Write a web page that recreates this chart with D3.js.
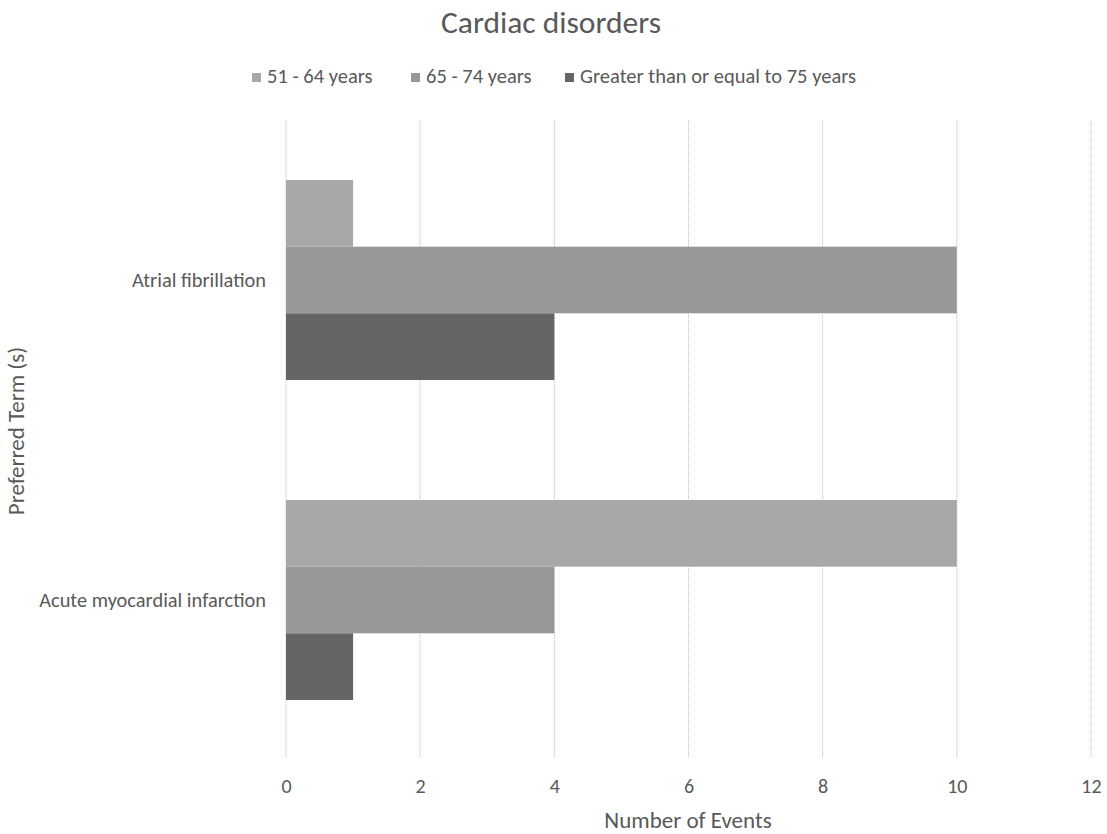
<!DOCTYPE html>
<html><head><meta charset="utf-8">
<script src="https://cdn.jsdelivr.net/npm/d3@7"></script>
<style>body{margin:0;background:#fff}svg{display:block}</style>
</head><body>
<svg id="c" width="1107" height="834"></svg>
<script>
const categories = ["Atrial fibrillation", "Acute myocardial infarction"];
const seriesNames = ["51 - 64 years", "65 - 74 years", "Greater than or equal to 75 years"];
const s51_64 = [1, 10];
const s65_74 = [10, 4];
const s75plus = [4, 1];
const xTicks = [0, 2, 4, 6, 8, 10, 12];
const colors = ["#a8a8a8", "#989898", "#656565"];
const series = [s51_64, s65_74, s75plus];

const svg = d3.select("#c");
const font = "Carlito, Lato, 'Liberation Sans', sans-serif";
const txt = "#595959";
const m = {l: 286, r: 1091, t: 120, b: 760};

const x = d3.scaleLinear().domain([0, 12]).range([m.l, m.r]);
const y0 = d3.scaleBand().domain(categories).range([m.t, m.b]).paddingInner(0.375).paddingOuter(0.1875);
const y1 = d3.scaleBand().domain(d3.range(3)).range([0, y0.bandwidth()]);

// gridlines
svg.append("g").selectAll("line").data(xTicks).join("line")
  .attr("x1", d => x(d)).attr("x2", d => x(d))
  .attr("y1", m.t).attr("y2", m.b - 3)
  .attr("stroke", "#bdbdbd").attr("stroke-width", 1).attr("stroke-dasharray", "1,1");

// bars
const g = svg.append("g");
categories.forEach((c, i) => {
  series.forEach((s, j) => {
    g.append("rect")
      .attr("x", x(0)).attr("y", y0(c) + y1(j))
      .attr("width", x(s[i]) - x(0)).attr("height", y1.bandwidth())
      .attr("fill", colors[j]);
  });
});

// x tick labels
const xa = d3.axisBottom(x).tickValues(xTicks).tickSize(0).tickPadding(0);
const xg = svg.append("g").attr("transform", `translate(0,793)`).call(xa);
xg.select(".domain").remove();
xg.selectAll("text").attr("fill", txt).style("font-family", font).style("font-size", "20px").attr("dy", 0).attr("y", 0);

// y labels
const ya = d3.axisLeft(y0).tickSize(0).tickPadding(0);
const yg = svg.append("g").attr("transform", `translate(${m.l - 20},0)`).call(ya);
yg.select(".domain").remove();
yg.selectAll("text").attr("fill", txt).style("font-family", font).style("font-size", "20.4px");

// title
svg.append("text").attr("x", 551).attr("y", 33).attr("text-anchor", "middle")
  .attr("fill", txt).style("font-family", font).style("font-size", "31.5px").text("Cardiac disorders");

// axis titles
svg.append("text").attr("x", 688).attr("y", 828).attr("text-anchor", "middle")
  .attr("fill", txt).style("font-family", font).style("font-size", "23px").text("Number of Events");
svg.append("text").attr("transform", "translate(24,431) rotate(-90)").attr("text-anchor", "middle")
  .attr("fill", txt).style("font-family", font).style("font-size", "23px").text("Preferred Term (s)");

// legend
const legX = [252, 411, 565];
const lg = svg.append("g");
seriesNames.forEach((n, j) => {
  lg.append("rect").attr("x", legX[j]).attr("y", 73).attr("width", 9).attr("height", 9).attr("fill", colors[j]);
  lg.append("text").attr("x", legX[j] + 15).attr("y", 83).attr("fill", txt)
    .style("font-family", font).style("font-size", "20.5px").text(n);
});
</script>
</body></html>
